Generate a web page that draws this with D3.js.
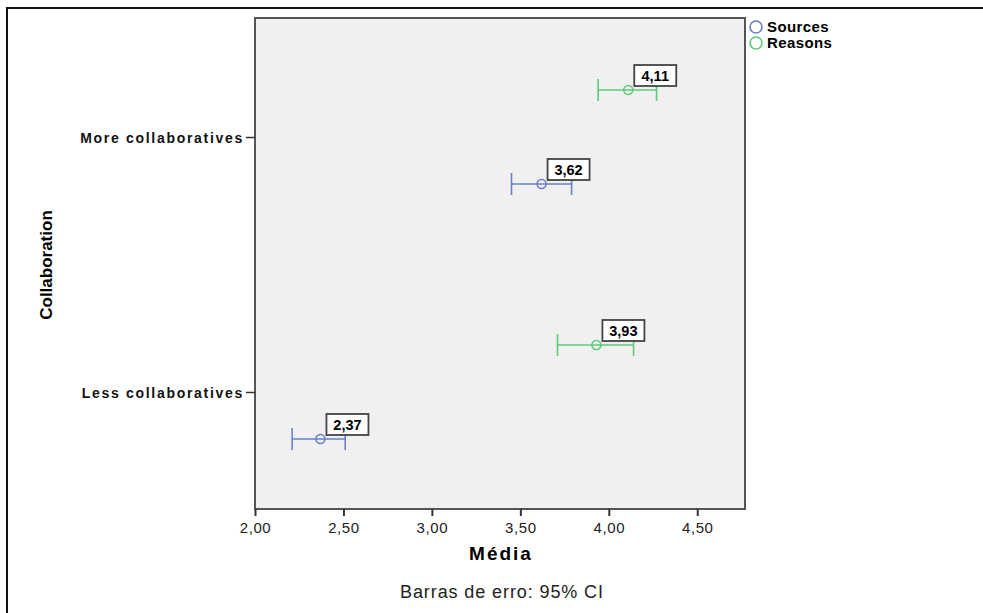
<html>
<head>
<script src="https://cdnjs.cloudflare.com/ajax/libs/d3/7.8.5/d3.min.js"></script>
<style>
  body { margin: 0; background: #fff; }
</style>
</head>
<body>
<svg id="svg" width="983" height="613"></svg>
<script>
// data
var categories = ["More collaboratives", "Less collaboratives"];
var series = ["Sources", "Reasons"];
var seriesColors = ["#6c7fc9", "#5ccc78"];
// mean and 95% CI, one row per category, in series order
var means = [[3.62, 4.11], [2.37, 3.93]];
var lower = [[3.45, 3.94], [2.21, 3.71]];
var upper = [[3.79, 4.27], [2.51, 4.14]];
var xTicks = [2.0, 2.5, 3.0, 3.5, 4.0, 4.5];

var svg = d3.select("svg");
var font = "'Liberation Sans', Arial, sans-serif";

// outer frame
svg.append("rect").attr("x", 7).attr("y", 8).attr("width", 990).attr("height", 620)
   .attr("fill", "none").attr("stroke", "#111").attr("stroke-width", 2);

var pLeft = 255, pRight = 745, pTop = 18, pBottom = 509;

var x = d3.scaleLinear().domain([2.0, 4.77]).range([pLeft, pRight]);
var y = d3.scalePoint().domain(categories).range([137, 392]);
var offset = d3.scalePoint().domain(series).range([47, -47]);

svg.append("rect").attr("x", pLeft).attr("y", pTop)
   .attr("width", pRight - pLeft).attr("height", pBottom - pTop)
   .attr("fill", "#f0f0f0").attr("stroke", "#555").attr("stroke-width", 2);

// x axis
var xAxis = d3.axisBottom(x).tickValues(xTicks).tickSize(7).tickSizeOuter(0)
   .tickFormat(function(d){ return d3.format(".2f")(d).replace(".", ","); });
var gx = svg.append("g").attr("transform", "translate(0," + pBottom + ")").call(xAxis);
gx.select(".domain").remove();
gx.selectAll(".tick line").attr("stroke", "#333").attr("stroke-width", 2);
gx.selectAll(".tick text").attr("dy", "0.95em")
  .style("font-family", font)
  .style("font-size", "15px").style("letter-spacing", "0.6px").attr("fill", "#222");

// y axis
var yAxis = d3.axisLeft(y).tickSize(9).tickSizeOuter(0);
var gy = svg.append("g").attr("transform", "translate(" + pLeft + ",0)").call(yAxis);
gy.select(".domain").remove();
gy.selectAll(".tick line").attr("stroke", "#333").attr("stroke-width", 1.5);
gy.selectAll(".tick text").attr("x", -11).attr("dy", "0.4em")
  .style("font-family", font).style("font-weight", "bold")
  .style("font-size", "14px").style("letter-spacing", "1.7px").attr("fill", "#111");

// error bars
var rows = [];
categories.forEach(function(c, i){
  series.forEach(function(s, j){
    rows.push({cat: c, ser: s, color: seriesColors[j], m: means[i][j], lo: lower[i][j], hi: upper[i][j]});
  });
});

var g = svg.append("g");
rows.forEach(function(r){
  var cy = y(r.cat) + offset(r.ser);
  g.append("line").attr("x1", x(r.lo)).attr("x2", x(r.hi)).attr("y1", cy).attr("y2", cy)
   .attr("stroke", r.color).attr("stroke-width", 1.6);
  [r.lo, r.hi].forEach(function(v){
    g.append("line").attr("x1", x(v)).attr("x2", x(v)).attr("y1", cy - 11).attr("y2", cy + 11)
     .attr("stroke", r.color).attr("stroke-width", 1.6);
  });
  g.append("circle").attr("cx", x(r.m)).attr("cy", cy).attr("r", 4.5)
   .attr("fill", "none").attr("stroke", r.color).attr("stroke-width", 1.6);

  var label = d3.format(".2f")(r.m).replace(".", ",");
  var bx = x(r.m) + 6, by = cy - 25;
  g.append("rect").attr("x", bx).attr("y", by).attr("width", 42).attr("height", 21)
   .attr("fill", "#fff").attr("stroke", "#444").attr("stroke-width", 1.8);
  g.append("text").attr("x", bx + 21).attr("y", by + 16).attr("text-anchor", "middle")
   .style("font-family", font).style("font-weight", "bold")
   .style("font-size", "14.5px").text(label);
});

// legend
var leg = svg.append("g");
series.forEach(function(s, j){
  var ly = 27 + j * 16;
  leg.append("circle").attr("cx", 756).attr("cy", ly).attr("r", 6)
     .attr("fill", "none").attr("stroke", seriesColors[j]).attr("stroke-width", 1.6);
  leg.append("text").attr("x", 767).attr("y", ly + 5)
     .style("font-family", font)
     .style("font-weight", "bold").style("font-size", "15px").style("letter-spacing", "0.4px").text(s);
});

// titles
svg.append("text").attr("x", 501).attr("y", 560).attr("text-anchor", "middle")
   .style("font-family", font).style("font-weight", "bold")
   .style("font-size", "19px").style("letter-spacing", "2px").text("Média");

svg.append("text").attr("x", 502).attr("y", 598).attr("text-anchor", "middle")
   .style("font-family", font).attr("fill", "#222")
   .style("font-size", "18px").style("letter-spacing", "0.9px").text("Barras de erro: 95% CI");

svg.append("text").attr("transform", "translate(52,265) rotate(-90)").attr("text-anchor", "middle")
   .style("font-family", font)
   .style("font-weight", "bold").style("font-size", "17px").text("Collaboration");
</script>
</body>
</html>
